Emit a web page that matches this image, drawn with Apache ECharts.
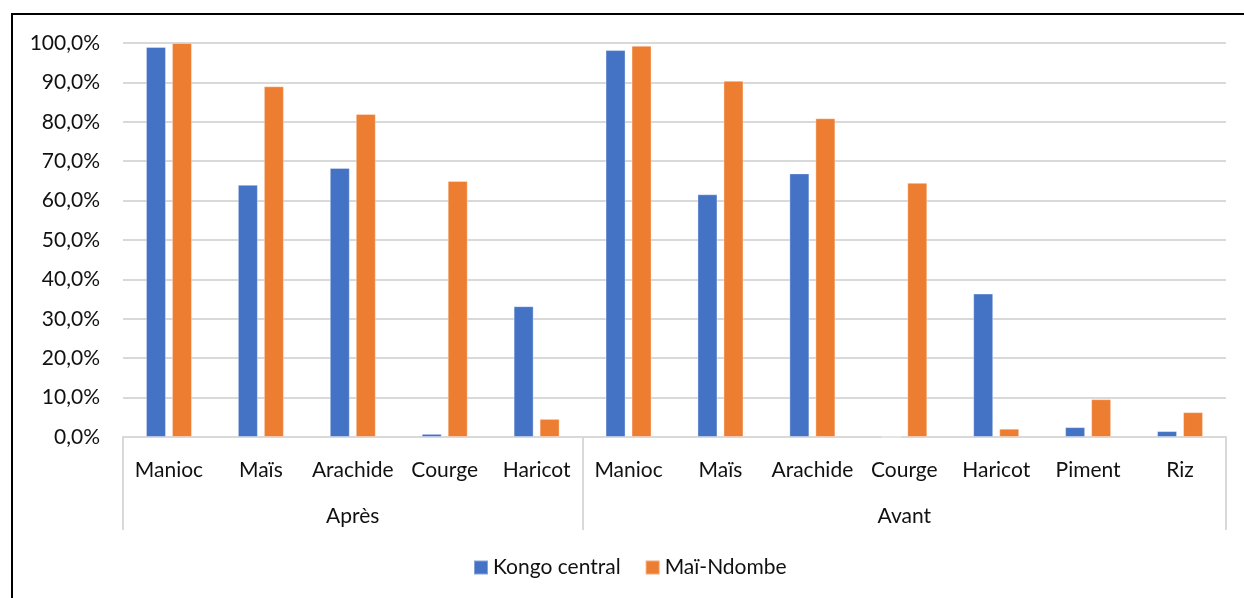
<!DOCTYPE html>
<html>
<head>
<meta charset="utf-8">
<script src="https://cdn.jsdelivr.net/npm/echarts@6/dist/echarts.min.js"></script>
<style>
  html, body { margin: 0; padding: 0; background: #fff; }
  #chart { width: 1244px; height: 598px; }
</style>
</head>
<body>
<div id="chart"></div>
<script>
// categories (two levels: crop / period)
const crops = ['Manioc', 'Maïs', 'Arachide', 'Courge', 'Haricot',
  'Manioc', 'Maïs', 'Arachide', 'Courge', 'Haricot', 'Piment', 'Riz']
const groups = ['Après', 'Avant']
const groupBounds = [0, 5, 12] // category index where each group starts / ends
const groupCenters = [2.5, 8.5]

// values in %
const kongoCentral = [99.0, 64.0, 68.3, 0.8, 33.2, 98.2, 61.6, 66.9, 0, 36.4, 2.5, 1.5]
const maiNdombe = [100.0, 89.0, 82.0, 65.0, 4.6, 99.3, 90.4, 80.9, 64.5, 2.1, 9.6, 6.3]

const seriesNames = ['Kongo central', 'Maï-Ndombe']
const colors = ['#4472C4', '#ED7D31']

const fontFamily = 'Lato, "Open Sans", sans-serif'
const textColor = '#111'
const gridColor = '#d9d9d9'
const fontSize = 21

const chart = echarts.init(document.getElementById('chart'))

const option = {
  animation: false,
  backgroundColor: '#fff',
  color: colors,
  textStyle: { fontFamily: fontFamily },
  graphic: [{
    type: 'rect',
    shape: { x: 12, y: 14, width: 1260, height: 620 },
    style: { fill: 'none', stroke: '#000', lineWidth: 2 },
    silent: true,
  }],
  grid: { left: 123, right: 18, top: 43, bottom: 161, containLabel: false },
  legend: {
    data: seriesNames,
    left: 468,
    top: 552,
    icon: 'rect',
    itemWidth: 14,
    itemHeight: 14,
    itemGap: 24,
    textStyle: { fontSize: fontSize, color: textColor, fontFamily: fontFamily },
  },
  xAxis: [{
    type: 'category',
    data: crops,
    axisLine: { show: true, lineStyle: { color: gridColor, width: 2 } },
    axisTick: { show: false },
    axisLabel: { interval: 0, margin: 23, fontSize: fontSize, color: textColor },
  }, {
    // group level of the axis: separators and period labels
    type: 'value',
    min: 0,
    max: 12,
    position: 'bottom',
    axisLine: { show: false },
    splitLine: { show: false },
    axisTick: {
      show: true,
      customValues: groupBounds,
      length: 93,
      lineStyle: { color: gridColor, width: 2 },
    },
    axisLabel: {
      customValues: groupCenters,
      formatter: (v) => groups[groupCenters.indexOf(v)],
      margin: 69,
      fontSize: fontSize,
      color: textColor,
    },
  }],
  yAxis: {
    type: 'value',
    min: 0,
    max: 100,
    interval: 10,
    axisLine: { show: false },
    axisTick: { show: false },
    splitLine: { lineStyle: { color: gridColor, width: 2 } },
    axisLabel: {
      margin: 23,
      fontSize: fontSize,
      color: textColor,
      formatter: (v) => v.toFixed(1).replace('.', ',') + '%',
    },
  },
  series: [{
    name: seriesNames[0],
    type: 'bar',
    xAxisIndex: 0,
    data: kongoCentral,
    barWidth: 20,
    barGap: '30%',
    itemStyle: { color: colors[0], borderColor: 'rgba(255,255,255,0.35)', borderWidth: 1 },
  }, {
    name: seriesNames[1],
    type: 'bar',
    xAxisIndex: 0,
    data: maiNdombe,
    barWidth: 20,
    barGap: '30%',
    itemStyle: { color: colors[1], borderColor: 'rgba(255,255,255,0.35)', borderWidth: 1 },
  }],
}

chart.setOption(option)
</script>
</body>
</html>
